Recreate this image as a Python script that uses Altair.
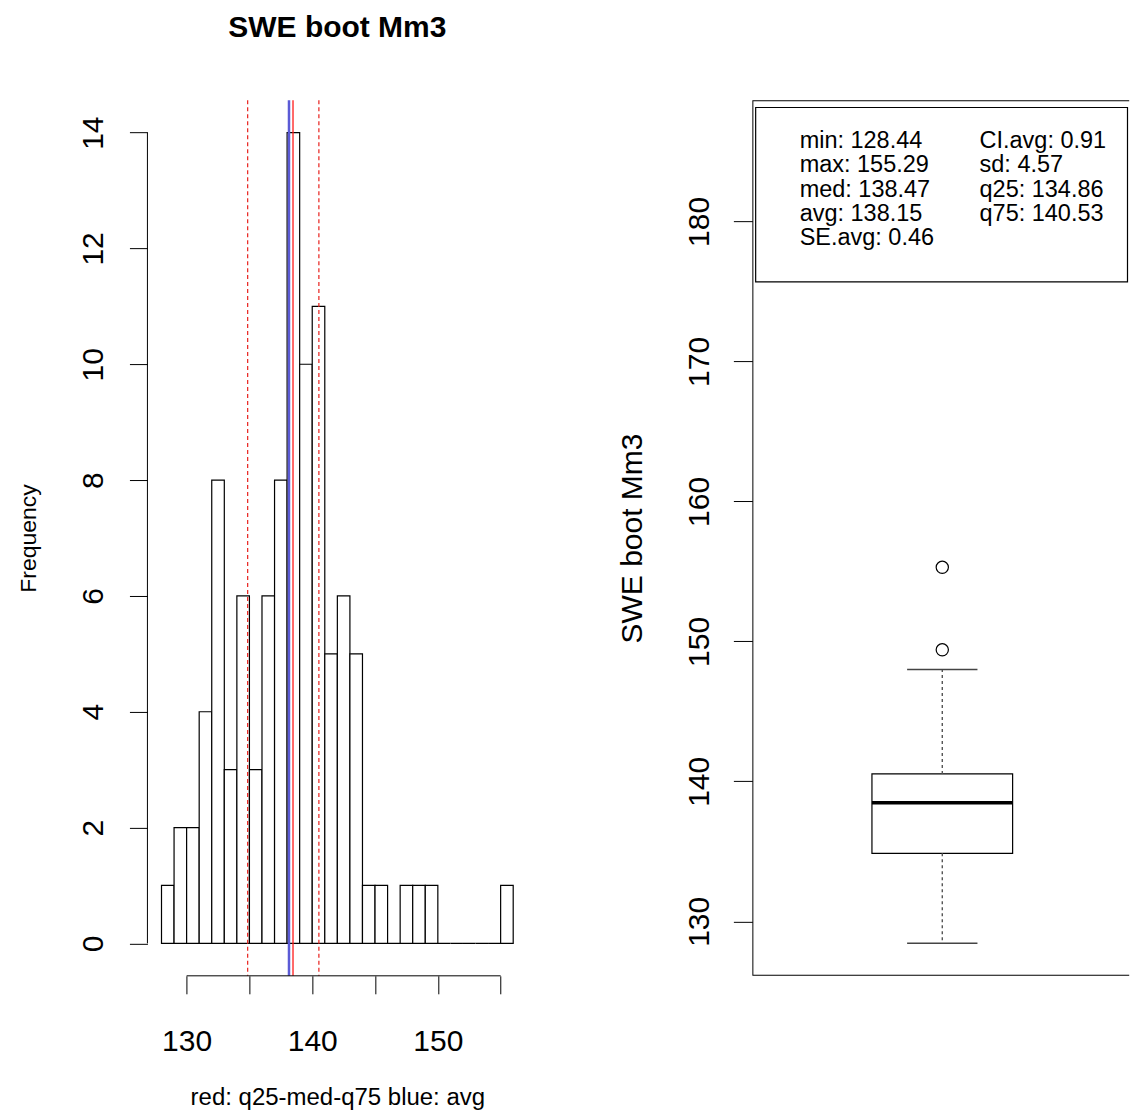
import altair as alt
import pandas as pd

# ---------------- data ----------------
bin_starts = list(range(128, 156))
bin_width = 1
counts = [1, 2, 2, 4, 8, 3, 6, 3, 6, 8, 14, 10, 11, 5, 6, 5, 1, 1, 0, 1, 1, 1, 0, 0, 0, 0, 0, 1]

line_names = ["q25", "med", "q75", "avg"]
line_values = [134.86, 138.47, 140.53, 138.15]

x_ticks = [130, 135, 140, 145, 150, 155]
freq_ticks = [0, 2, 4, 6, 8, 10, 12, 14]
swe_ticks = [130, 140, 150, 160, 170, 180]

box_q25, box_med, box_q75 = 134.86, 138.47, 140.53
whisker_low, whisker_high = 128.44, 148.0
outliers = [149.4, 155.29]

legend_left = ["min: 128.44", "max: 155.29", "med: 138.47", "avg: 138.15", "SE.avg: 0.46"]
legend_right = ["CI.avg: 0.91", "sd: 4.57", "q25: 134.86", "q75: 140.53"]

main_title = "SWE boot Mm3"

# ---------------- layout / style ----------------
FONT = "Liberation Sans"
W, H = 380, 876
W2 = 377
hist_x_domain = [126.88, 157.12]
freq_domain = [-0.56, 14.56]
box_x_domain = [0.46, 0.46 + 1.08 * W2 / 380]
swe_domain = [126.11, 188.66]

xscale = alt.Scale(domain=hist_x_domain, nice=False, zero=False)
yscale = alt.Scale(domain=freq_domain, nice=False, zero=False)

x_axis = alt.Axis(
    values=x_ticks, labelExpr="datum.value % 10 == 0 ? datum.label : ''", format="d",
    tickSize=18, tickColor="black", tickWidth=1, domain=False, grid=False,
    labelFontSize=30, labelColor="black", labelBaseline="middle", labelPadding=48,
    labelFont=FONT, labelOverlap=False, labelFlush=False,
    title="red: q25-med-q75 blue: avg", titleFontSize=24, titleFontWeight="normal",
    titleColor="black", titleFont=FONT, titleX=W / 2, titleY=128.6,
    titleBaseline="alphabetic", titleAlign="center",
)
y_axis = alt.Axis(
    values=freq_ticks, format="d", tickSize=18, tickColor="black", tickWidth=1,
    domain=False, grid=False,
    labelAngle=270, labelAlign="center", labelBaseline="middle", labelPadding=36,
    labelFontSize=30, labelColor="black", labelFont=FONT, labelOverlap=False, labelFlush=False,
    title="Frequency", titleFontSize=23, titleFontWeight="normal", titleColor="black",
    titleFont=FONT, titleAngle=270, titleAlign="center", titleBaseline="middle",
    titleX=-118.5, titleY=H / 2,
)

# ---------------- left panel: histogram ----------------
hist_df = pd.DataFrame({
    "start": bin_starts,
    "end": [b + bin_width for b in bin_starts],
    "count": counts,
})
lines_df = pd.DataFrame({"name": line_names, "value": line_values})
one = pd.DataFrame({"a": [0]})

bars = alt.Chart(hist_df).mark_rect(fill="white", stroke="black", strokeWidth=1.2).encode(
    x=alt.X("start:Q", scale=xscale, axis=x_axis),
    x2="end:Q",
    y=alt.Y("count:Q", scale=yscale, axis=y_axis),
    y2=alt.datum(0),
)
dashed = alt.Chart(lines_df).transform_filter(
    "datum.name == 'q25' || datum.name == 'q75'"
).mark_rule(color="#e8201c", strokeWidth=1.2, strokeDash=[4, 3]).encode(x="value:Q")
avg_line = alt.Chart(lines_df).transform_filter("datum.name == 'avg'").mark_rule(
    color="#5b5bd6", strokeWidth=2.5).encode(x="value:Q")
med_line = alt.Chart(lines_df).transform_filter("datum.name == 'med'").mark_rule(
    color="#ff1a1a", strokeWidth=1.3).encode(x="value:Q")
xaxis_line = alt.Chart(pd.DataFrame({"a": [min(x_ticks)], "b": [max(x_ticks)]})).mark_rule(
    color="black", strokeWidth=1).encode(x="a:Q", x2="b:Q", y=alt.value(H))
yaxis_line = alt.Chart(pd.DataFrame({"a": [min(freq_ticks)], "b": [max(freq_ticks)]})).mark_rule(
    color="black", strokeWidth=1).encode(y="a:Q", y2="b:Q", x=alt.value(0))
title_text = alt.Chart(one).mark_text(
    fontSize=30, fontWeight="bold", font=FONT, color="black", align="center",
    baseline="alphabetic"
).encode(x=alt.value(W / 2), y=alt.value(-63.6), text=alt.value(main_title))

left = alt.layer(bars, avg_line, med_line, dashed, xaxis_line, yaxis_line,
                 title_text).properties(width=W, height=H)

# ---------------- right panel: boxplot ----------------
bx = alt.Scale(domain=box_x_domain, nice=False, zero=False)
by = alt.Scale(domain=swe_domain, nice=False, zero=False)
r_axis = alt.Axis(
    values=swe_ticks, format="d", tickSize=19, tickColor="black", tickWidth=1,
    domain=False, grid=False,
    labelAngle=270, labelAlign="center", labelBaseline="middle", labelPadding=34,
    labelFontSize=30, labelColor="black", labelFont=FONT, labelOverlap=False, labelFlush=False,
    title="SWE boot Mm3", titleFontSize=30, titleFontWeight="normal", titleColor="black",
    titleFont=FONT, titleAngle=270, titleAlign="center", titleBaseline="middle",
    titleX=-120, titleY=H / 2,
)

box_half, cap_half, center = 0.2, 0.1, 1.0

box_df = pd.DataFrame({"x1": [center - box_half], "x2": [center + box_half],
                       "lo": [box_q25], "hi": [box_q75], "med": [box_med]})
whisk_df = pd.DataFrame({"c": [center, center], "from": [box_q75, box_q25],
                         "to": [whisker_high, whisker_low]})
cap_df = pd.DataFrame({"x1": [center - cap_half] * 2, "x2": [center + cap_half] * 2,
                       "y": [whisker_high, whisker_low]})
out_df = pd.DataFrame({"c": [center] * len(outliers), "v": outliers})
frame_df = pd.DataFrame({"x1": [0.46], "x2": [1.54], "y1": [swe_domain[0]], "y2": [swe_domain[1]]})

box = alt.Chart(box_df).mark_rect(fill="white", stroke="black", strokeWidth=1.2).encode(
    x=alt.X("x1:Q", scale=bx, axis=None), x2="x2:Q",
    y=alt.Y("lo:Q", scale=by, axis=r_axis), y2="hi:Q",
)
median = alt.Chart(box_df).mark_rule(color="black", strokeWidth=3.5).encode(
    x="x1:Q", x2="x2:Q", y="med:Q")
whiskers = alt.Chart(whisk_df).mark_rule(color="#555555", strokeWidth=1.4, strokeDash=[3, 3]).encode(
    x="c:Q", y="from:Q", y2="to:Q")
caps = alt.Chart(cap_df).mark_rule(color="#444444", strokeWidth=1.5).encode(
    x="x1:Q", x2="x2:Q", y="y:Q")
outs = alt.Chart(out_df).mark_point(shape="circle", filled=False, color="black", size=150,
                                    strokeWidth=1.2, opacity=1).encode(x="c:Q", y="v:Q")
frame = alt.Chart(frame_df).mark_rect(fill=None, stroke="black", strokeWidth=2, clip=True).encode(
    x="x1:Q", x2="x2:Q", y="y1:Q", y2="y2:Q")
legend_box = alt.Chart(one).mark_rect(fill="white", stroke="black", strokeWidth=1.2).encode(
    x=alt.value(3.3), x2=alt.value(375.3), y=alt.value(7.3), y2=alt.value(181.7))
legend_text_l = alt.Chart(one).mark_text(
    align="left", baseline="top", fontSize=23.5, lineHeight=24.2, font=FONT, color="black"
).encode(x=alt.value(47.3), y=alt.value(29), text=alt.value(legend_left))
legend_text_r = alt.Chart(one).mark_text(
    align="left", baseline="top", fontSize=23.5, lineHeight=24.2, font=FONT, color="black"
).encode(x=alt.value(227.3), y=alt.value(29), text=alt.value(legend_right))

right = alt.layer(box, whiskers, caps, median, outs, frame, legend_box,
                  legend_text_l, legend_text_r).properties(width=W2, height=H)

chart = alt.hconcat(left, right, spacing=225.2, bounds="flush").configure(
    font=FONT, background="white",
    padding={"left": 17.5, "top": 12, "right": 0, "bottom": 0},
).configure_view(stroke=None)

chart.save("out.html", embed_options={"renderer": "svg", "actions": False})
